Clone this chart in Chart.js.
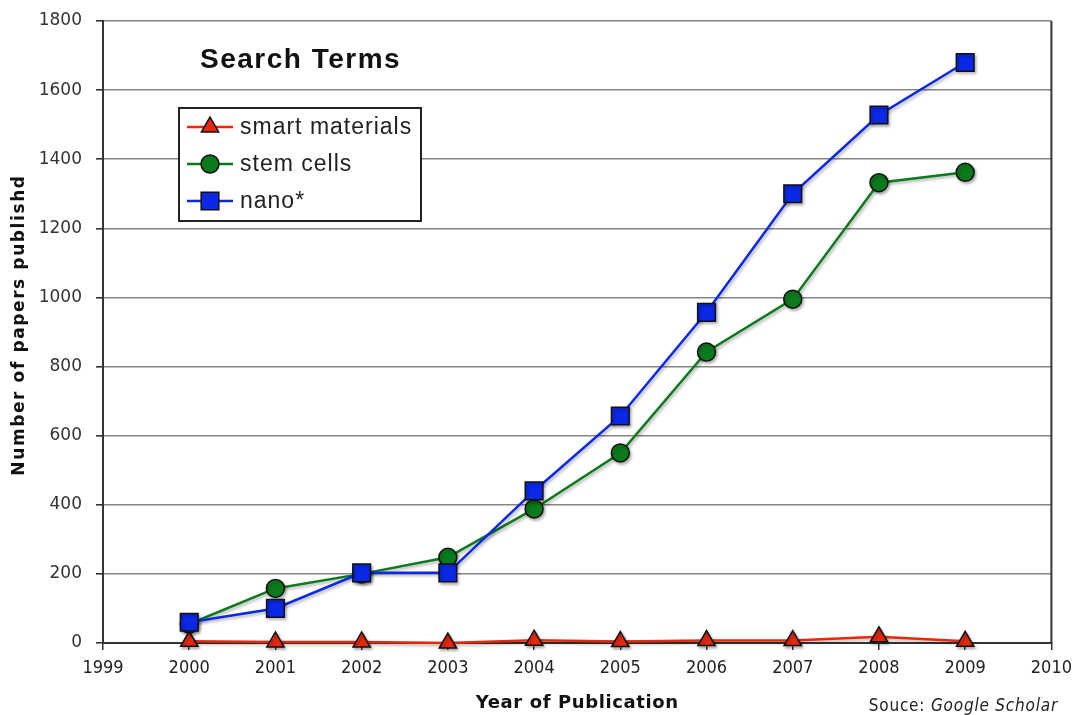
<!DOCTYPE html>
<html>
<head>
<meta charset="utf-8">
<script src="https://cdn.jsdelivr.net/npm/chart.js@4.4.1/dist/chart.umd.min.js"></script>
<style>
  html, body { margin: 0; padding: 0; background: #fff; }
  #wrap { width: 1080px; height: 715px; position: relative; }
</style>
</head>
<body>
<div id="wrap"><canvas id="c"></canvas></div>
<script>
// values
const years = [2000, 2001, 2002, 2003, 2004, 2005, 2006, 2007, 2008, 2009];
const smartMaterials = [5, 3, 3, 0, 8, 4, 7, 7, 18, 5];
const stemCells = [55, 158, 200, 248, 388, 550, 842, 995, 1332, 1362];
const nano = [60, 100, 203, 203, 440, 657, 957, 1300, 1528, 1680];
const seriesNames = ['smart materials', 'stem cells', 'nano*'];

const RED = '#e8280e', GREEN = '#0b7a1c', BLUE = '#0a28e6';
const SANS = '"Liberation Sans", Arial, sans-serif';
const DJ = '"DejaVu Sans", sans-serif';
const DJC = '"DejaVu Sans Condensed", "DejaVu Sans", sans-serif';

function pts(vals) {
  return vals.map((v, i) => ({ x: years[i], y: v }));
}

// soft shadow under lines and markers
const shadow = {
  id: 'shadow',
  beforeDraw(chart) {
    chart.ctx.letterSpacing = '0px';
  },
  beforeDatasetsDraw(chart) {
    const ctx = chart.ctx;
    ctx.save();
    ctx.shadowColor = 'rgba(0,0,0,0.3)';
    ctx.shadowBlur = 3;
    ctx.shadowOffsetX = 1.5;
    ctx.shadowOffsetY = 2;
  },
  afterDatasetsDraw(chart) {
    chart.ctx.restore();
  }
};

// title + legend box inside the plot, axis titles, source note, right border
const extras = {
  id: 'extras',
  afterDraw(chart) {
    const ctx = chart.ctx;
    const a = chart.chartArea;
    ctx.save();
    ctx.strokeStyle = '#333';
    ctx.lineWidth = 2;
    ctx.beginPath();
    ctx.moveTo(a.right, a.top);
    ctx.lineTo(a.right, a.bottom);
    ctx.stroke();

    ctx.fillStyle = '#111';
    ctx.textBaseline = 'middle';
    ctx.textAlign = 'left';
    ctx.letterSpacing = '1.5px';
    ctx.font = 'bold 28px ' + SANS;
    ctx.fillText('Search Terms', 200, 60);

    // legend
    ctx.letterSpacing = '0px';
    ctx.fillStyle = '#fff';
    ctx.fillRect(179, 108, 242, 113);
    ctx.strokeStyle = '#222';
    ctx.lineWidth = 2;
    ctx.strokeRect(179, 108, 242, 113);
    const rows = [127, 164, 201];
    chart.data.datasets.forEach((ds, i) => {
      const y = rows[i];
      ctx.strokeStyle = ds.borderColor;
      ctx.lineWidth = 2.5;
      ctx.beginPath();
      ctx.moveTo(187, y);
      ctx.lineTo(233, y);
      ctx.stroke();
      ctx.fillStyle = ds.pointBackgroundColor;
      ctx.strokeStyle = '#111';
      ctx.lineWidth = 1.5;
      Chart.helpers.drawPoint(ctx, {
        pointStyle: ds.pointStyle, radius: ds.pointRadius, borderWidth: 1.5
      }, 210, y);
      ctx.fillStyle = '#222';
      ctx.letterSpacing = '1px';
      ctx.font = '23px ' + SANS;
      ctx.fillText(ds.label, 240, y + 1);
      ctx.letterSpacing = '0px';
    });

    // axis titles
    ctx.fillStyle = '#111';
    ctx.textAlign = 'center';
    ctx.letterSpacing = '0.6px';
    ctx.font = 'bold 18px ' + DJ;
    ctx.fillText('Year of Publication', (a.left + a.right) / 2, 703);
    ctx.save();
    ctx.translate(20, 325);
    ctx.rotate(-Math.PI / 2);
    ctx.letterSpacing = '1.6px';
    ctx.font = 'bold 17px ' + DJ;
    ctx.fillText('Number of papers publishd', 0, 0);
    ctx.restore();

    // source note
    ctx.fillStyle = '#222';
    ctx.textAlign = 'left';
    ctx.letterSpacing = '0.8px';
    ctx.font = '17px ' + DJC;
    const s1 = 'Souce: ';
    const w1 = ctx.measureText(s1).width;
    ctx.font = 'italic 17px ' + DJC;
    const s2 = 'Google Scholar';
    const w2 = ctx.measureText(s2).width;
    const x0 = 1058 - w1 - w2;
    ctx.font = '17px ' + DJC;
    ctx.fillText(s1, x0, 707);
    ctx.font = 'italic 17px ' + DJC;
    ctx.fillText(s2, x0 + w1, 707);
    ctx.letterSpacing = '0px';
    ctx.restore();
    ctx.letterSpacing = '0px';
  }
};

const data = {
  datasets: [
    {
      label: seriesNames[0], data: pts(smartMaterials), order: 3,
      borderColor: RED, backgroundColor: RED, pointBackgroundColor: RED,
      pointStyle: 'triangle', pointRadius: 10
    },
    {
      label: seriesNames[1], data: pts(stemCells), order: 2,
      borderColor: GREEN, backgroundColor: GREEN, pointBackgroundColor: GREEN,
      pointStyle: 'circle', pointRadius: 9
    },
    {
      label: seriesNames[2], data: pts(nano), order: 1,
      borderColor: BLUE, backgroundColor: BLUE, pointBackgroundColor: BLUE,
      pointStyle: 'rect', pointRadius: 12.5
    }
  ].map(d => Object.assign(d, {
    borderWidth: 2.5, pointBorderColor: '#111', pointBorderWidth: 1.5,
    tension: 0, fill: false, clip: false
  }))
};

new Chart(document.getElementById('c'), {
  type: 'line',
  data: data,
  plugins: [shadow, extras],
  options: {
    responsive: true,
    maintainAspectRatio: false,
    animation: false,
    layout: { padding: { top: 21, right: 27, bottom: 0, left: 0 } },
    plugins: { legend: { display: false }, tooltip: { enabled: false } },
    scales: {
      x: {
        type: 'linear', min: 1999, max: 2010,
        afterFit(scale) { scale.height = 72; },
        ticks: {
          stepSize: 1, padding: 8, color: '#222',
          font: { family: DJC, size: 18 },
          callback: v => String(v)
        },
        grid: { drawOnChartArea: false, tickLength: 7, tickColor: '#333', lineWidth: 1.5 },
        border: { color: '#333', width: 2 }
      },
      y: {
        min: 0, max: 1800,
        afterFit(scale) {
          scale.width = 103;
          scale.paddingTop = 0;
          scale.paddingBottom = 0;
        },
        ticks: {
          stepSize: 200, padding: 14, color: '#333',
          font: { family: DJ, size: 17 },
          callback: v => String(v)
        },
        grid: { color: '#858585', lineWidth: 1.6, tickLength: 7, tickColor: '#333' },
        border: { color: '#333', width: 2 }
      }
    }
  }
});
</script>
</body>
</html>
